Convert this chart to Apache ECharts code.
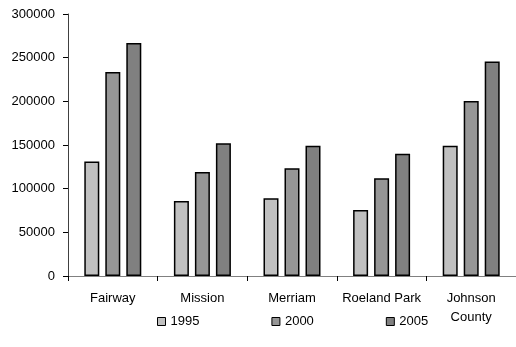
<!DOCTYPE html>
<html><head><meta charset="utf-8">
<script src="https://cdn.jsdelivr.net/npm/echarts@6/dist/echarts.min.js"></script>
<style>html,body{margin:0;padding:0;background:#fff}#c{width:516px;height:347px}</style>
</head><body><div id="c"></div>
<script>
const categories = ['Fairway', 'Mission', 'Merriam', 'Roeland Park', 'Johnson County'];
const seriesNames = ['1995', '2000', '2005'];
const values1995 = [131000, 86000, 89000, 75500, 149000];
const values2000 = [233500, 119000, 123500, 112000, 200500];
const values2005 = [266800, 152000, 149000, 140000, 245500];
const yTicks = [0, 50000, 100000, 150000, 200000, 250000, 300000];
const colors = ['#C0C0C0', '#969696', '#808080'];

const allValues = [values1995, values2000, values2005];
const font = 'Liberation Sans, Arial, sans-serif';
const chart = echarts.init(document.getElementById('c'), null, {renderer: 'canvas'});
chart.setOption({
  animation: false,
  textStyle: {fontFamily: font},
  grid: {left: 68, right: -3, top: 14, bottom: 71},
  legend: {
    left: 157, top: 315, padding: 0, itemWidth: 8, itemHeight: 8, itemGap: 72,
    icon: 'rect',
    textStyle: {fontFamily: font, fontSize: 13, color: '#000'},
    itemStyle: {borderColor: '#000', borderWidth: 1}
  },
  xAxis: {
    type: 'category', data: categories,
    axisLine: {lineStyle: {color: '#808080', width: 1}},
    axisTick: {show: true, length: 5, lineStyle: {color: '#000'}},
    axisLabel: {
      color: '#000', fontSize: 13, fontFamily: font, margin: 13, lineHeight: 19, interval: 0,
      formatter: v => v === 'Johnson County' ? 'Johnson\nCounty' : v
    }
  },
  yAxis: {
    type: 'value', min: yTicks[0], max: yTicks[yTicks.length - 1], interval: yTicks[1] - yTicks[0],
    axisLine: {show: true, lineStyle: {color: '#404040', width: 1}},
    axisTick: {show: true, length: 5, lineStyle: {color: '#000'}},
    splitLine: {show: false},
    axisLabel: {color: '#000', fontSize: 13, fontFamily: font, margin: 13, formatter: v => String(v)}
  },
  series: seriesNames.map((n, i) => ({
    name: n, type: 'bar', data: allValues[i], barWidth: 15, barGap: '40%',
    itemStyle: {color: colors[i], borderColor: '#000', borderWidth: 1.5}
  }))
});
</script></body></html>
